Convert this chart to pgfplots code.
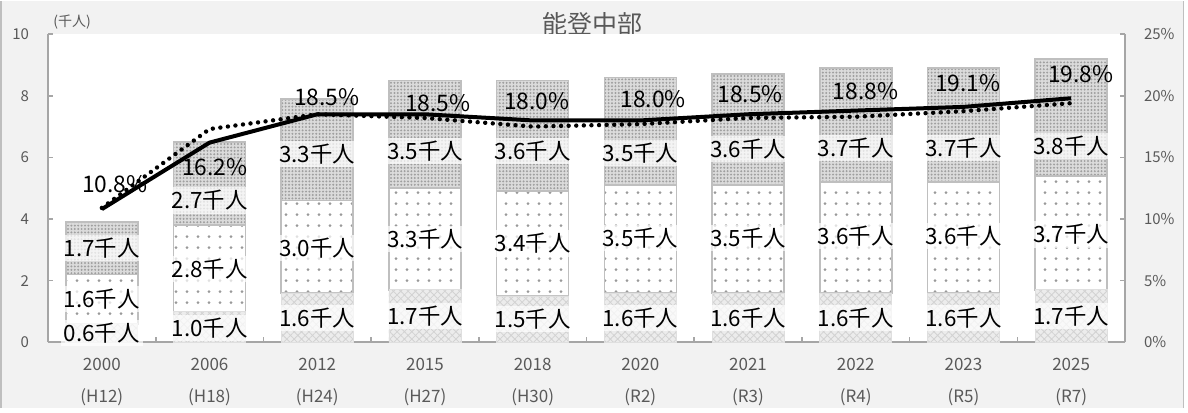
\documentclass[border=0pt]{standalone}
\usepackage{fontspec}
\setmainfont{Noto Sans CJK JP}
\usepackage{pgfplots}
\pgfplotsset{compat=1.18}
\usepackage{pgfplotstable}
\usetikzlibrary{patterns.meta}

\definecolor{txt}{HTML}{595959}
\definecolor{bg}{HTML}{F2F2F2}
\definecolor{axl}{HTML}{A6A6A6}

% bar segments (thousand persons): a = bottom, b = middle, c = top
\pgfplotstableread{
x a b c
0 0.6 1.6 1.7
1 1.0 2.8 2.7
2 1.6 3.0 3.3
3 1.7 3.3 3.5
4 1.5 3.4 3.6
5 1.6 3.5 3.5
6 1.6 3.5 3.6
7 1.6 3.6 3.7
8 1.6 3.6 3.7
9 1.7 3.7 3.8
}\bars

% share (%): s = solid line, d = dotted line
\pgfplotstableread{
x s d
0 10.8 10.9
1 16.2 17.3
2 18.5 18.5
3 18.5 18.2
4 18.0 17.5
5 18.0 17.7
6 18.5 18.2
7 18.8 18.3
8 19.1 18.75
9 19.8 19.4
}\lines

% label positions for bar segment values
\pgfplotstableread{
x y v
0 0.29 0.6
0 1.40 1.6
0 3.05 1.7
1 0.45 1.0
1 2.37 2.8
1 4.60 2.7
2 0.78 1.6
2 3.05 3.0
2 6.10 3.3
3 0.84 1.7
3 3.34 3.3
3 6.20 3.5
4 0.75 1.5
4 3.20 3.4
4 6.20 3.6
5 0.78 1.6
5 3.38 3.5
5 6.14 3.5
6 0.78 1.6
6 3.38 3.5
6 6.27 3.6
7 0.78 1.6
7 3.44 3.6
7 6.30 3.7
8 0.78 1.6
8 3.44 3.6
8 6.30 3.7
9 0.84 1.7
9 3.50 3.7
9 6.36 3.8
}\klabels

% label positions for percentage values
\pgfplotstableread{
x y v
0.12 12.8 10.8
1.05 14.2 16.2
2.09 19.9 18.5
3.12 19.4 18.5
4.04 19.6 18.0
5.12 19.7 18.0
6.02 20.15 18.5
7.09 20.4 18.8
8.04 21.0 19.1
9.09 21.75 19.8
}\plabels

\pgfplotsset{
  common/.style={
    at={(24pt,33pt)}, anchor=south west,
    scale only axis, width=538.5pt, height=154pt,
    xmin=-0.5, xmax=9.5, clip=false,
    /pgf/number format/assume math mode=true,
    tick align=inside, major tick length=2.5pt,
  },
}

\begin{document}
\begin{tikzpicture}
\fill[white] (0,0) rectangle (594pt,203.5pt);
\fill[bg] (0,0) rectangle (592pt,203.5pt);
\draw[gray!50, line width=1.2pt] (0.6pt,0) -- (0.6pt,203.5pt);
\draw[gray!50, line width=0.5pt] (591.75pt,0) -- (591.75pt,203.5pt);
\node[text=txt, font=\fontsize{12.5}{14}\selectfont] at (296pt,192pt) {能登中部};
\node[text=txt, font=\fontsize{7}{8}\selectfont] at (36pt,193pt) {(千人)};

% bars
\begin{axis}[common,
  ymin=0, ymax=10,
  axis background/.style={fill=white},
  ybar stacked, bar width=36pt,
  axis x line*=bottom, axis y line*=left,
  axis line style={axl, line width=0.9pt},
  tick style={axl, line width=0.8pt},
  ytick={0,2,4,6,8,10},
  yticklabels={0,2,4,6,8,10},
  yticklabel style={font=\fontsize{7.5}{9}\selectfont, text=txt, xshift=-6pt},
  xtick={0.5,1.5,...,8.5},
  xticklabels={},
]
\addplot[fill=gray!15, draw=gray!25, line width=0.4pt,
  postaction={pattern={Hatch[angle=45,distance=2.6pt,line width=0.4pt]}, pattern color=gray!35}]
  table[x=x,y=a]{\bars};
\addplot[fill=white, draw=gray!50, line width=0.8pt,
  postaction={pattern={Dots[radius=0.75pt,distance=5.5pt]}, pattern color=gray!80}]
  table[x=x,y=b]{\bars};
\addplot[fill=gray!28, draw=gray!50, line width=0.8pt,
  postaction={pattern={Dots[radius=0.55pt,distance=1.7pt]}, pattern color=gray!75}]
  table[x=x,y=c]{\bars};
\end{axis}

% lines
\begin{axis}[common,
  ymin=0, ymax=25,
  axis y line*=right, axis x line*=bottom,
  x axis line style={draw=none},
  y axis line style={axl, line width=0.9pt},
  ytick={0,5,10,15,20,25},
  yticklabels={0\%,5\%,10\%,15\%,20\%,25\%},
  ytick style={axl, line width=0.8pt},
  yticklabel style={font=\fontsize{7.5}{9}\selectfont, text=txt, xshift=6pt},
  xtick={0,...,9},
  xtick style={draw=none},
  xticklabels={2000\\(H12),2006\\(H18),2012\\(H24),2015\\(H27),2018\\(H30),2020\\(R2),2021\\(R3),2022\\(R4),2023\\(R5),2025\\(R7)},
  xticklabel style={align=center, font=\fontsize{8.5}{16}\selectfont, text=txt, yshift=-4.5pt},
]
\addplot[black, line width=2pt, line join=round] table[x=x,y=s]{\lines};
\addplot[black, line width=2.2pt, dash pattern=on 0pt off 3.8pt, line cap=round] table[x=x,y=d]{\lines};
\addplot[draw=none, point meta=explicit,
  nodes near coords={\pgfmathprintnumber[fixed,fixed zerofill,precision=1]{\pgfplotspointmeta}\%},
  every node near coord/.append style={anchor=center, text=black, font=\fontsize{11.4}{12}\selectfont, inner sep=0.5pt}]
  table[x=x,y=y,meta=v]{\plabels};
\end{axis}

% segment labels
\begin{axis}[common, ymin=0, ymax=10, hide axis]
\addplot[draw=none, point meta=explicit,
  nodes near coords={\pgfmathprintnumber[fixed,fixed zerofill,precision=1]{\pgfplotspointmeta}千人},
  every node near coord/.append style={anchor=center, text=black, font=\fontsize{11.2}{12}\selectfont,
    fill=white, fill opacity=0.7, text opacity=1, inner sep=1.5pt}]
  table[x=x,y=y,meta=v]{\klabels};
\end{axis}
\end{tikzpicture}
\end{document}
